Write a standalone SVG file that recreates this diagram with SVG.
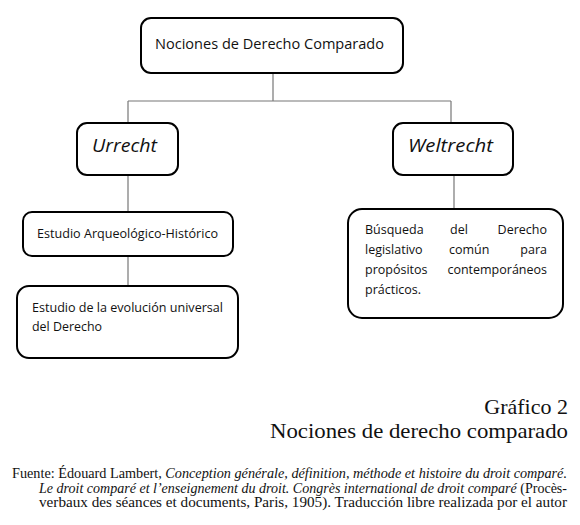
<svg xmlns="http://www.w3.org/2000/svg" width="580" height="525" viewBox="0 0 580 525">
<style>
.box{fill:#fff;stroke:#000;stroke-width:2}
.conn{stroke:#777;stroke-width:1.2;fill:none}
.t{font-family:"Open Sans","Liberation Sans",sans-serif;font-size:12.5px;fill:#111}
.e{text-anchor:end}
.h{font-family:"Open Sans","Liberation Sans",sans-serif;font-size:18px;font-style:italic;fill:#111}
.cap{font-family:"Liberation Serif","Times New Roman",serif;font-size:22px;fill:#111}
.src{font-family:"Liberation Serif","Times New Roman",serif;font-size:14px;fill:#111}
.i{font-style:italic}
</style>
<rect width="580" height="525" fill="#fff"/>
<g id="connectors">
<path class="conn" d="M273 73V101M128 101H451M128 101V123M451 101V123"/>
<path class="conn" d="M128 175V212M128 256V286"/>
<path class="conn" d="M454 175V209"/>
</g>
<g id="root">
<rect class="box" x="141" y="18" width="262" height="55" rx="10"/>
<text class="t" x="155" y="49" textLength="229" lengthAdjust="spacingAndGlyphs" style="font-size:14px">Nociones de Derecho Comparado</text>
</g>
<g id="urrecht">
<rect class="box" x="77" y="123" width="101" height="52" rx="10"/>
<text class="h" x="92" y="152" textLength="65" lengthAdjust="spacingAndGlyphs">Urrecht</text>
</g>
<g id="weltrecht">
<rect class="box" x="393" y="123" width="120" height="52" rx="10"/>
<text class="h" x="408" y="152" textLength="85" lengthAdjust="spacingAndGlyphs">Weltrecht</text>
</g>
<g id="estudio-arq">
<rect class="box" x="23" y="212" width="210" height="44" rx="9"/>
<text class="t" x="37" y="238" textLength="181" lengthAdjust="spacingAndGlyphs">Estudio Arqueológico-Histórico</text>
</g>
<g id="estudio-evol">
<rect class="box" x="17" y="286" width="221" height="72" rx="12"/>
<text class="t" x="32" y="312" textLength="191" lengthAdjust="spacingAndGlyphs">Estudio de la evolución universal</text>
<text class="t" x="32" y="331" textLength="70" lengthAdjust="spacingAndGlyphs">del Derecho</text>
</g>
<g id="busqueda">
<rect class="box" x="348" y="209" width="215" height="109" rx="14"/>
<text class="t" x="365" y="234">Búsqueda</text>
<text class="t" x="450" y="234">del</text>
<text class="t e" x="547" y="234">Derecho</text>
<text class="t" x="365" y="254">legislativo</text>
<text class="t" x="449" y="254">común</text>
<text class="t e" x="547" y="254">para</text>
<text class="t" x="365" y="274">propósitos</text>
<text class="t e" x="547" y="274">contemporáneos</text>
<text class="t" x="365" y="294">prácticos.</text>
</g>
<text class="cap" x="568" y="414" text-anchor="end">Gráfico 2</text>
<text class="cap" x="270" y="438" textLength="298" lengthAdjust="spacingAndGlyphs">Nociones de derecho comparado</text>
<text class="src" x="12" y="478" textLength="555" lengthAdjust="spacingAndGlyphs">Fuente: Édouard Lambert, <tspan class="i">Conception générale, définition, méthode et histoire du droit comparé.</tspan></text>
<text class="src" x="39" y="492.5" textLength="528" lengthAdjust="spacingAndGlyphs"><tspan class="i">Le droit comparé et l’enseignement du droit. Congrès international de droit comparé</tspan> (Procès-</text>
<text class="src" x="39" y="507" textLength="528" lengthAdjust="spacingAndGlyphs">verbaux des séances et documents, Paris, 1905). Traducción libre realizada por el autor</text>
</svg>
